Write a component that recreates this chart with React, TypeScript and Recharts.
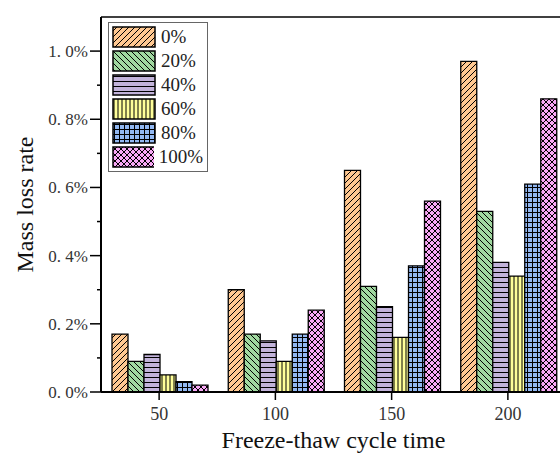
import React from 'react';
import { BarChart, Bar, XAxis, YAxis, ReferenceLine } from 'recharts';

const cycles = ['50', '100', '150', '200'];
const seriesNames = ['0%', '20%', '40%', '60%', '80%', '100%'];
const loss0 = [0.17, 0.3, 0.65, 0.97];
const loss20 = [0.09, 0.17, 0.31, 0.53];
const loss40 = [0.11, 0.15, 0.25, 0.38];
const loss60 = [0.05, 0.09, 0.16, 0.34];
const loss80 = [0.03, 0.17, 0.37, 0.61];
const loss100 = [0.02, 0.24, 0.56, 0.86];
const yTicks = [0, 0.1, 0.2, 0.3, 0.4, 0.5, 0.6, 0.7, 0.8, 0.9, 1.0];
const yMajor = [0, 0.2, 0.4, 0.6, 0.8, 1.0];

const allSeries = [loss0, loss20, loss40, loss60, loss80, loss100];
const keys = ['s0', 's20', 's40', 's60', 's80', 's100'];
const patternIds = ['pOrange', 'pGreen', 'pPurple', 'pYellow', 'pBlue', 'pPink'];

const data = cycles.map((c, i) => {
  const row: Record<string, string | number> = { cycle: c };
  keys.forEach((k, j) => {
    row[k] = allSeries[j][i];
  });
  return row;
});

const FONT = '"Liberation Serif", "Times New Roman", serif';

const Patterns = () => (
  <defs>
    <pattern id="pOrange" patternUnits="userSpaceOnUse" width={6} height={6}>
      <rect width={6} height={6} fill="#FFC891" />
      <path d="M0,6 L6,0 M-1,1 L1,-1 M5,7 L7,5" stroke="#000" strokeWidth={1} />
    </pattern>
    <pattern id="pGreen" patternUnits="userSpaceOnUse" width={6} height={6}>
      <rect width={6} height={6} fill="#A0D8A0" />
      <path d="M0,0 L6,6 M-1,5 L1,7 M5,-1 L7,1" stroke="#000" strokeWidth={1} />
    </pattern>
    <pattern id="pPurple" patternUnits="userSpaceOnUse" width={5} height={5}>
      <rect width={5} height={5} fill="#C2B3DA" />
      <path d="M0,2.5 L5,2.5" stroke="#000" strokeWidth={1} />
    </pattern>
    <pattern id="pYellow" patternUnits="userSpaceOnUse" width={4} height={4}>
      <rect width={4} height={4} fill="#FFFF99" />
      <path d="M2,0 L2,4" stroke="#000" strokeWidth={1} />
    </pattern>
    <pattern id="pBlue" patternUnits="userSpaceOnUse" width={5} height={5}>
      <rect width={5} height={5} fill="#92B8F2" />
      <path d="M0,2.5 L5,2.5 M2.5,0 L2.5,5" stroke="#000" strokeWidth={1} />
    </pattern>
    <pattern id="pPink" patternUnits="userSpaceOnUse" width={6} height={6}>
      <rect width={6} height={6} fill="#F8A8F5" />
      <path d="M0,6 L6,0 M-1,1 L1,-1 M5,7 L7,5 M0,0 L6,6 M-1,5 L1,7 M5,-1 L7,1" stroke="#000" strokeWidth={1} />
    </pattern>
  </defs>
);

const YTick = (props: any) => {
  const { x, y, payload } = props;
  const v: number = payload.value;
  const major = yMajor.some((m) => Math.abs(m - v) < 1e-6);
  const axisX = x + 13;
  const len = major ? 11 : 4;
  return (
    <g>
      <line x1={axisX - len} x2={axisX} y1={y} y2={y} stroke="#000" strokeWidth={1.5} />
      {major && (
        <text x={x} y={y} dy={6} textAnchor="end" fontSize={17} fontFamily={FONT} fill="#333">
          {`${v.toFixed(1).replace('.', '. ')}%`}
        </text>
      )}
    </g>
  );
};

const ChartLegend = () => (
  <div
    style={{
      position: 'absolute',
      left: 108,
      top: 22,
      border: '1px solid #666',
      background: '#fff',
      padding: '2px 4px 2px 3px',
      fontFamily: FONT,
      fontSize: 19,
      color: '#222',
      width: 91,
    }}
  >
    {seriesNames.map((name, i) => (
      <div key={name} style={{ display: 'flex', alignItems: 'center', height: 24 }}>
        <svg width={44} height={22} style={{ marginRight: 5 }}>
          <rect x={1} y={1} width={42} height={20} fill={`url(#${patternIds[i]})`} stroke="#000" strokeWidth={1.5} />
        </svg>
        <span>{name}</span>
      </div>
    ))}
  </div>
);

export default function App() {
  return (
    <div style={{ position: 'absolute', left: 0, top: 0, width: 560, height: 456, overflow: 'hidden', background: '#fff' }}>
      <BarChart
        width={570}
        height={456}
        data={data}
        margin={{ top: 17, right: 4, left: 0, bottom: 8 }}
        barCategoryGap={11}
        barGap={0}
      >
        <Patterns />
        <XAxis
          dataKey="cycle"
          height={56}
          axisLine={{ stroke: '#000', strokeWidth: 2 }}
          tickLine={{ stroke: '#000', strokeWidth: 1.5 }}
          tickSize={8}
          tickMargin={7}
          tick={{ fontSize: 18, fontFamily: FONT, fill: '#333' }}
          label={{ value: 'Freeze-thaw cycle time', position: 'insideBottom', offset: 0, fontSize: 24, fontFamily: FONT, fill: '#111' }}
        />
        <YAxis
          width={101}
          domain={[0, 1.1]}
          ticks={yTicks}
          interval={0}
          allowDataOverflow
          axisLine={{ stroke: '#000', strokeWidth: 2 }}
          tickLine={false}
          tickSize={11}
          tickMargin={2}
          tick={<YTick />}
          label={{ value: 'Mass loss rate', angle: -90, position: 'insideLeft', offset: 24, fontSize: 24, fontFamily: FONT, fill: '#111', style: { textAnchor: 'middle' } }}
        />
        <ReferenceLine y={1.1} stroke="#000" strokeWidth={1.5} />
        {keys.map((k, i) => (
          <Bar
            key={k}
            dataKey={k}
            name={seriesNames[i]}
            fill={`url(#${patternIds[i]})`}
            stroke="#000"
            strokeWidth={1.3}
            isAnimationActive={false}
          />
        ))}
      </BarChart>
      <ChartLegend />
    </div>
  );
}
